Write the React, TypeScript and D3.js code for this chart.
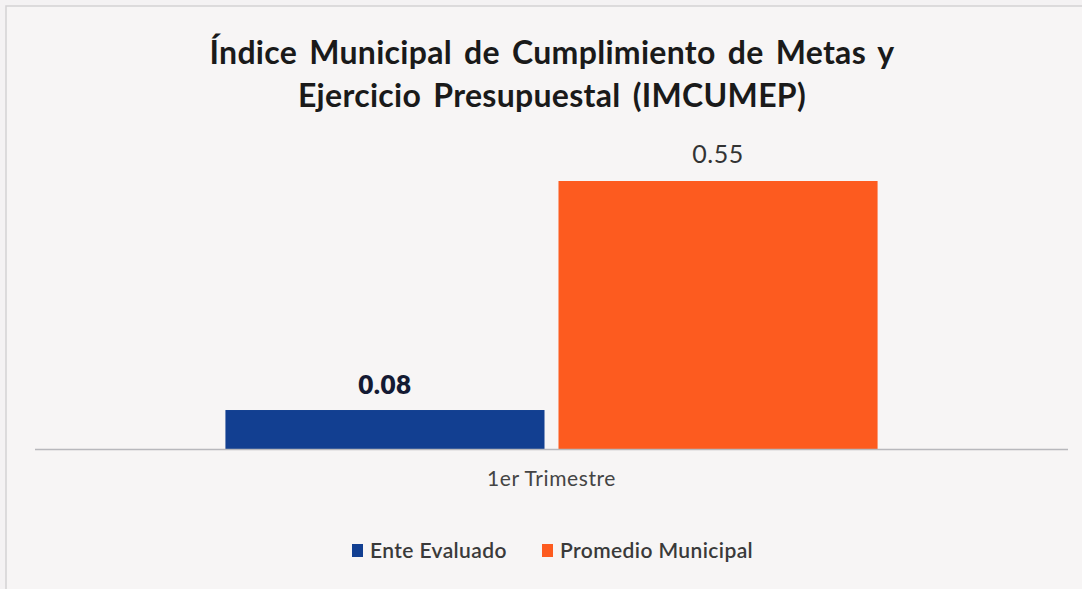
import React from "react";
import * as d3 from "d3";

const categories = ["1er Trimestre"];
const seriesNames = ["Ente Evaluado", "Promedio Municipal"];
const enteEvaluado = [0.08];
const promedioMunicipal = [0.55];
const seriesColors = ["#123f91", "#fd5b1f"];
const titleLines = [
  "Índice Municipal de Cumplimiento de Metas y",
  "Ejercicio Presupuestal (IMCUMEP)",
];

const W = 1082;
const H = 589;
const FONT = "Lato, 'Open Sans', sans-serif";

export default function App() {
  const baseY = 449;
  const x0 = d3
    .scaleBand<string>()
    .domain(categories)
    .range([35, 1068])
    .paddingInner(0)
    .paddingOuter(0.292);
  const x1 = d3
    .scaleBand<string>()
    .domain(seriesNames)
    .range([0, x0.bandwidth()])
    .paddingInner(0.042)
    .paddingOuter(0);
  const y = d3.scaleLinear().domain([0, 0.55]).range([baseY, 181]);
  const values = [enteEvaluado, promedioMunicipal];

  return (
    <svg
      width={W}
      height={H}
      style={{ position: "absolute", left: 0, top: 0, background: "#f4f2f3" }}
    >
      <rect x={0} y={0} width={W} height={H} fill="#f4f2f3" />
      <rect x={6} y={6} width={W + 10} height={H + 10} fill="#f7f5f5" stroke="#d4d2d4" strokeWidth={1.5} />
      {titleLines.map((t, i) => (
        <text
          key={i}
          x={552}
          y={64 + i * 43}
          textAnchor="middle"
          fontFamily={FONT}
          fontWeight={700}
          fontSize={32}
          wordSpacing={4}
          letterSpacing={0.3}
          fill="#1a1a1a"
        >
          {t}
        </text>
      ))}
      {categories.map((c, ci) => (
        <g key={c} transform={`translate(${x0(c)},0)`}>
          {seriesNames.map((s, si) => {
            const v = values[si][ci];
            const bx = x1(s)!;
            return (
              <g key={s}>
                <rect
                  x={bx}
                  y={y(v)}
                  width={x1.bandwidth()}
                  height={baseY - y(v)}
                  fill={seriesColors[si]}
                />
                <text
                  x={bx + x1.bandwidth() / 2}
                  y={y(v) - (si === 0 ? 16 : 18)}
                  textAnchor="middle"
                  fontFamily={FONT}
                  fontWeight={si === 0 ? 800 : 400}
                  fontSize={si === 0 ? 26 : 25}
                  letterSpacing={0.5}
                  fill={si === 0 ? "#141a33" : "#333333"}
                >
                  {v.toFixed(2)}
                </text>
              </g>
            );
          })}
          <text
            x={x0.bandwidth() / 2}
            y={486}
            textAnchor="middle"
            fontFamily={FONT}
            fontSize={21}
            letterSpacing={0.6}
            fill="#444"
          >
            {c}
          </text>
        </g>
      ))}
      <line x1={35} x2={1068} y1={baseY + 0.5} y2={baseY + 0.5} stroke="#b8b8bc" strokeWidth={1.5} />
      {seriesNames.map((s, i) => {
        const lx = [352, 542][i];
        return (
          <g key={s}>
            <rect x={lx} y={544} width={11} height={13} fill={seriesColors[i]} />
            <text x={lx + 18} y={558} fontFamily={FONT} fontWeight={600} fontSize={21} letterSpacing={0.4} fill="#3a3a3a">
              {s}
            </text>
          </g>
        );
      })}
    </svg>
  );
}
